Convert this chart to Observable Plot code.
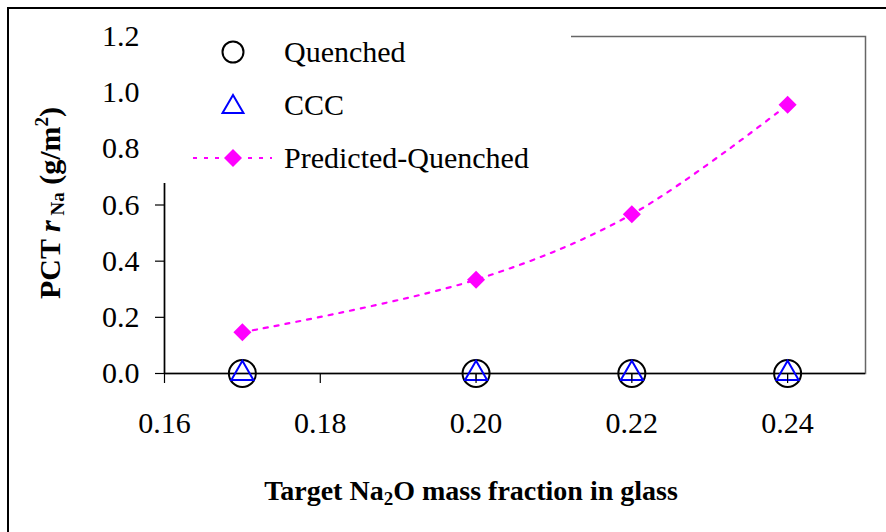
<!DOCTYPE html>
<html>
<head>
<meta charset="utf-8">
<script src="https://cdn.jsdelivr.net/npm/d3@7"></script>
<script src="https://cdn.jsdelivr.net/npm/@observablehq/plot@0.6"></script>
<style>
  html, body { margin: 0; padding: 0; background: white; }
  #chart svg { display: block; }
  #chart svg text, #chart svg tspan { font-family: "Liberation Serif", "DejaVu Serif", serif; }
</style>
</head>
<body>
<div id="chart"></div>
<script>
// ---- data ----
const xValues = [0.17, 0.20, 0.22, 0.24];
const quenched = [0, 0, 0, 0];
const ccc = [0, 0, 0, 0];
const cccErrLow = [0, 0.028, 0.028, 0.028];
const predicted = [0.147, 0.334, 0.567, 0.957];
const xTicks = [0.16, 0.18, 0.20, 0.22, 0.24];
const yTicks = [0, 0.2, 0.4, 0.6, 0.8, 1.0, 1.2];
const seriesNames = ["Quenched", "CCC", "Predicted-Quenched"];

const rowsQ = xValues.map((x, i) => ({x, y: quenched[i]}));
const rowsC = xValues.map((x, i) => ({x, y: ccc[i], lo: ccc[i] - cccErrLow[i]}));
const rowsP = xValues.map((x, i) => ({x, y: predicted[i]}));

const serif = "Liberation Serif, DejaVu Serif, serif";
const magenta = "#ff00ff";

const chart = Plot.plot({
  width: 886,
  height: 532,
  marginLeft: 164,
  marginRight: 21,
  marginTop: 36,
  marginBottom: 159,
  style: {fontSize: "30px", background: "white", color: "black"},
  x: {domain: [0.16, 0.25]},
  y: {domain: [0, 1.2]},
  marks: [
    Plot.frame({stroke: "#666", strokeWidth: 1.5}),
    Plot.axisX({ticks: xTicks, tickFormat: d3.format(".2f"), tickSize: 10, tickPadding: 28,
      label: null, fontSize: 30, stroke: "black", strokeWidth: 1.2}),
    Plot.axisY({ticks: yTicks, tickFormat: d3.format(".1f"), tickSize: 9, tickPadding: 16,
      label: null, fontSize: 30, stroke: "black", strokeWidth: 1.2}),
    Plot.ruleY([0], {stroke: "black", strokeWidth: 1.5}),
    Plot.ruleX([0.16], {stroke: "black", strokeWidth: 1.5}),
    Plot.line(rowsP, {x: "x", y: "y", stroke: magenta, strokeWidth: 2.2,
      strokeDasharray: "4,7", curve: "catmull-rom"}),
    Plot.dot(rowsP, {x: "x", y: "y", symbol: "square", r: 7.2, rotate: 45, fill: magenta, stroke: "none"}),
    Plot.dot(rowsQ, {x: "x", y: "y", symbol: "circle", r: 13.5, stroke: "black", strokeWidth: 2, fill: "none"}),
    Plot.dot(rowsC, {x: "x", y: "y", symbol: "triangle", r: 8.2, stroke: "#0000ff", strokeWidth: 2, fill: "none"}),
    Plot.ruleX(rowsC, {x: "x", y1: "y", y2: "lo", stroke: "black", strokeWidth: 1})
  ]
});

document.getElementById("chart").appendChild(chart);

// ---- overlay: legend, titles, outer border ----
const svg = d3.select(chart);
const g = svg.append("g").attr("text-anchor", "start");

// legend box (white, covering the frame corner)
g.append("rect").attr("x", 145).attr("y", 28).attr("width", 426).attr("height", 155).attr("fill", "white");

const legendX = 233, textX = 284;
const rowsY = [52, 105, 158];
// Quenched
g.append("circle").attr("cx", legendX).attr("cy", rowsY[0]).attr("r", 10.5)
  .attr("fill", "none").attr("stroke", "black").attr("stroke-width", 2);
// CCC
g.append("path").attr("transform", `translate(${legendX},${rowsY[1] + 2})`)
  .attr("d", d3.symbol(d3.symbolTriangle, 190)())
  .attr("fill", "none").attr("stroke", "#0000ff").attr("stroke-width", 2);
// Predicted
g.append("line").attr("x1", 193).attr("x2", 272).attr("y1", rowsY[2]).attr("y2", rowsY[2])
  .attr("stroke", magenta).attr("stroke-width", 2.2).attr("stroke-dasharray", "4,7");
g.append("path").attr("transform", `translate(${legendX},${rowsY[2]}) rotate(45)`)
  .attr("d", d3.symbol(d3.symbolSquare, 162)()).attr("fill", magenta);

seriesNames.forEach((name, i) => {
  g.append("text").attr("x", textX).attr("y", rowsY[i] + 10).attr("text-anchor", "start")
    .attr("font-family", serif).attr("font-size", 30).attr("fill", "black").text(name);
});

// x title
const xt = g.append("text").attr("x", 471).attr("y", 500).attr("text-anchor", "middle")
  .attr("font-family", serif).attr("font-size", 28).attr("font-weight", "bold").attr("fill", "black");
xt.append("tspan").text("Target Na");
xt.append("tspan").attr("font-size", 19).attr("dy", 5).text("2");
xt.append("tspan").attr("dy", -5).text("O mass fraction in glass");

// y title
const yt = g.append("text").attr("transform", "translate(60,203) rotate(-90)").attr("text-anchor", "middle")
  .attr("font-family", serif).attr("font-size", 30).attr("font-weight", "bold").attr("fill", "black");
yt.append("tspan").text("PCT ");
yt.append("tspan").attr("font-style", "italic").text("r");
yt.append("tspan").attr("font-size", 19).attr("dy", 4).text(" Na");
yt.append("tspan").attr("dy", -4).text(" (g/m");
yt.append("tspan").attr("font-size", 19).attr("dy", -12).text("2");
yt.append("tspan").attr("dy", 12).text(")");

// outer border (top and left visible)
g.append("path").attr("d", "M8,540V8H900").attr("fill", "none").attr("stroke", "black").attr("stroke-width", 2);
</script>
</body>
</html>
